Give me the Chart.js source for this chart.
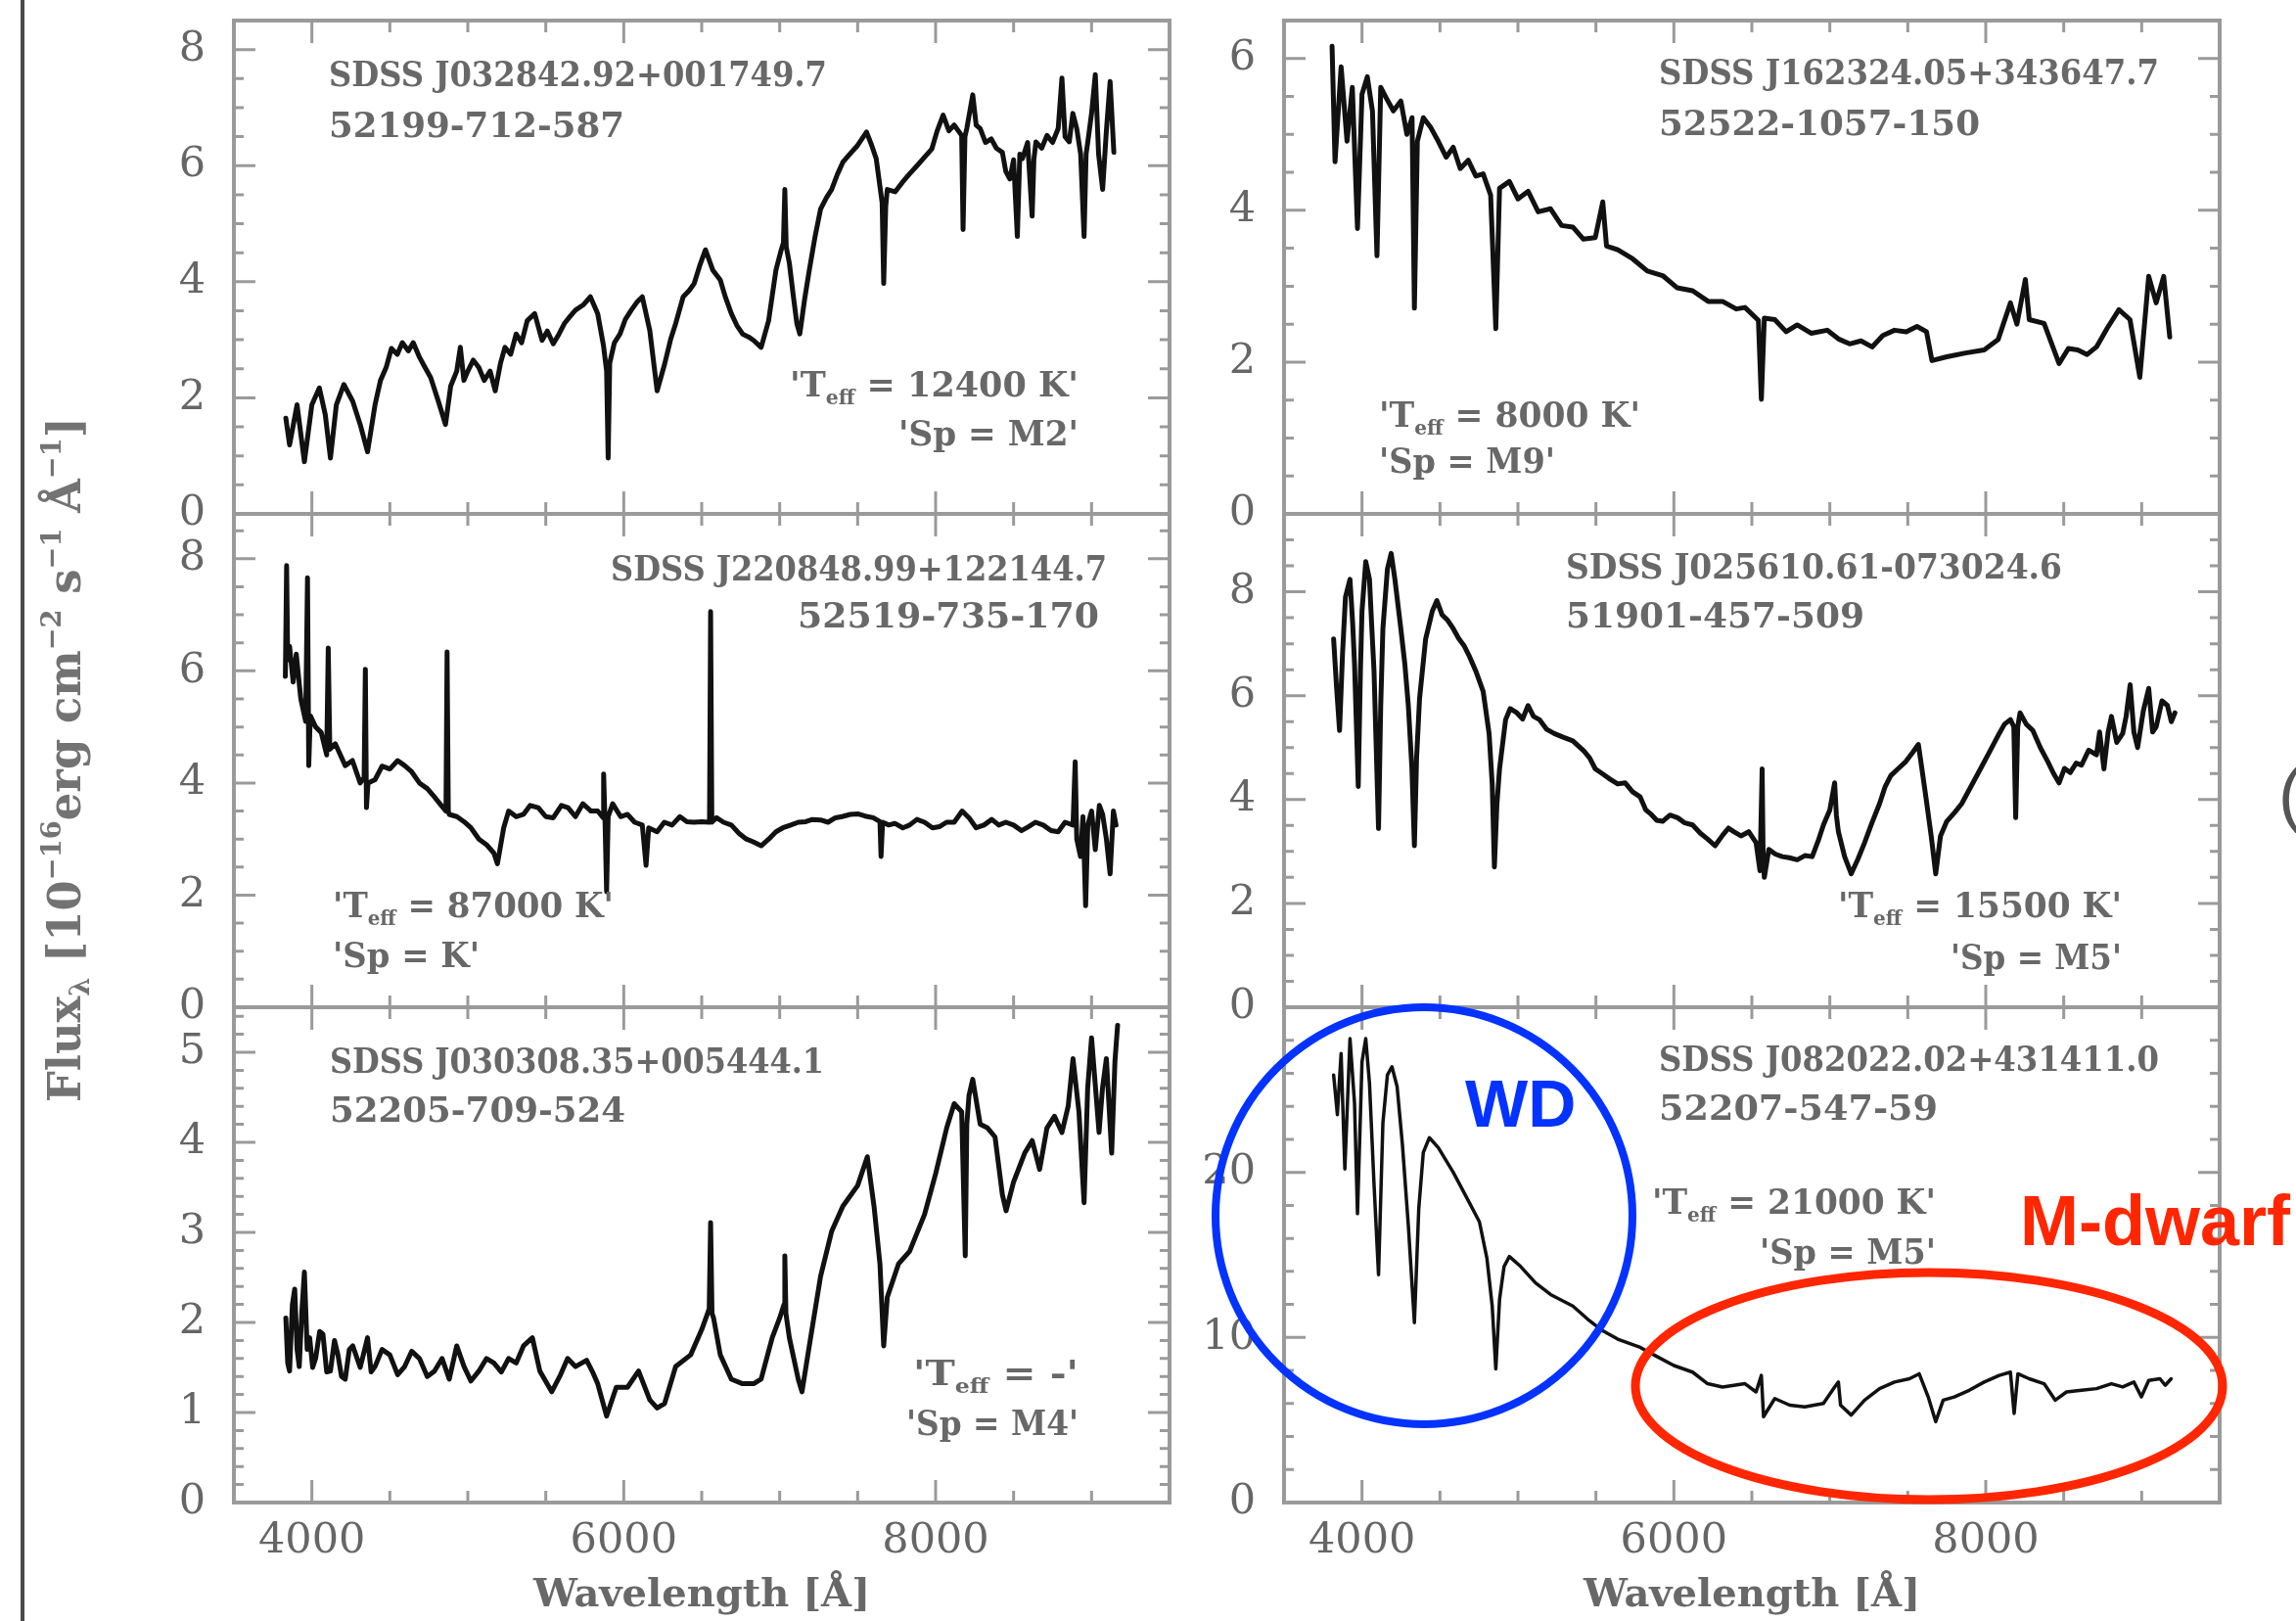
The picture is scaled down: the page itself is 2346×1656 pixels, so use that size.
<!DOCTYPE html>
<html><head><meta charset="utf-8">
<script src="https://cdn.jsdelivr.net/npm/chart.js@4.4.1/dist/chart.umd.min.js"></script>
<style>
html,body{margin:0;padding:0;background:#fff;width:2346px;height:1656px;overflow:hidden;}
canvas{position:absolute;left:0;top:0;}
</style></head><body>
<canvas id="c0" width="2346" height="1656"></canvas>
<canvas id="c1" width="2346" height="1656"></canvas>
<canvas id="c2" width="2346" height="1656"></canvas>
<canvas id="c3" width="2346" height="1656"></canvas>
<canvas id="c4" width="2346" height="1656"></canvas>
<canvas id="c5" width="2346" height="1656"></canvas>
<script>
// ---------------- DATA ----------------
const xTickLabels = [4000, 6000, 8000];
const xRange = [3500, 9500];

const yTicks1 = [0, 2, 4, 6, 8];
const yTicks2 = [0, 2, 4, 6];
const yTicks3 = [0, 2, 4, 6, 8];
const yTicks4 = [0, 2, 4, 6, 8];
const yTicks5 = [0, 1, 2, 3, 4, 5];
const yTicks6 = [0, 10, 20];
const yMaxes = [8.5, 6.5, 8.8, 9.5, 5.5, 30];

const objectNames = ['SDSS J032842.92+001749.7','SDSS J162324.05+343647.7','SDSS J220848.99+122144.7',
                     'SDSS J025610.61-073024.6','SDSS J030308.35+005444.1','SDSS J082022.02+431411.0'];
const plateIds = ['52199-712-587','52522-1057-150','52519-735-170','51901-457-509','52205-709-524','52207-547-59'];
const teffValues = ['12400 K','8000 K','87000 K','15500 K','-','21000 K'];
const spTypes = ['M2','M9','K','M5','M4','M5'];
const xTitle = 'Wavelength [Å]';
const yTitleParts = [['Flux','n'],['λ','sub'],[' [10','n'],['−16','sup'],['erg cm','n'],['−2','sup'],[' s','n'],['−1','sup'],[' Å','n'],['−1','sup'],[']','n']];
const wdLabel = 'WD';
const mdwarfLabel = 'M-dwarf';

// spectra: [wavelength (Å), flux (1e-16 erg cm^-2 s^-1 Å^-1)]
const spec1 = [[3833,1.65],[3857,1.19],[3905,1.88],[3952,0.90],[4000,1.88],[4048,2.17],[4086,1.71],[4119,0.96],[4157,1.88],[4205,2.23],[4262,1.94],[4310,1.54],[4357,1.07],[4405,1.88],[4440,2.30],[4476,2.52],[4510,2.85],[4548,2.75],[4580,2.95],[4619,2.81],[4650,2.95],[4690,2.70],[4720,2.55],[4762,2.35],[4810,1.95],[4857,1.54],[4890,2.20],[4929,2.46],[4952,2.87],[4975,2.30],[5000,2.46],[5035,2.65],[5071,2.52],[5105,2.30],[5143,2.46],[5176,2.12],[5210,2.60],[5238,2.87],[5275,2.75],[5310,3.10],[5345,2.95],[5381,3.33],[5429,3.45],[5476,2.99],[5510,3.15],[5548,2.93],[5585,3.10],[5619,3.28],[5655,3.40],[5690,3.51],[5740,3.60],[5786,3.74],[5833,3.45],[5870,2.90],[5890,2.46],[5900,0.96],[5910,2.60],[5940,2.95],[5976,3.10],[6010,3.35],[6048,3.51],[6085,3.65],[6119,3.74],[6167,3.16],[6214,2.12],[6262,2.58],[6300,3.00],[6333,3.28],[6381,3.74],[6420,3.85],[6452,3.97],[6490,4.30],[6524,4.55],[6571,4.20],[6619,4.03],[6650,3.75],[6690,3.45],[6725,3.25],[6762,3.10],[6800,3.05],[6833,2.99],[6881,2.87],[6929,3.33],[6976,4.20],[7010,4.55],[7024,4.67],[7033,5.59],[7042,4.60],[7062,4.32],[7090,3.70],[7110,3.28],[7129,3.10],[7160,3.70],[7190,4.20],[7225,4.75],[7262,5.25],[7300,5.45],[7333,5.59],[7370,5.85],[7405,6.06],[7450,6.20],[7500,6.35],[7557,6.58],[7590,6.35],[7619,6.12],[7645,5.60],[7657,5.36],[7667,3.97],[7680,5.30],[7690,5.59],[7740,5.55],[7786,5.71],[7830,5.85],[7881,6.00],[7930,6.15],[7976,6.29],[8010,6.60],[8048,6.87],[8085,6.60],[8119,6.70],[8167,6.52],[8176,4.90],[8188,6.50],[8200,6.64],[8238,7.22],[8260,6.70],[8286,6.64],[8320,6.40],[8357,6.46],[8390,6.30],[8428,6.23],[8450,5.90],[8476,5.77],[8500,6.10],[8524,4.78],[8540,6.20],[8557,6.12],[8590,6.40],[8619,5.13],[8630,6.10],[8643,6.41],[8680,6.30],[8714,6.52],[8750,6.40],[8786,6.64],[8810,7.51],[8830,6.50],[8857,6.41],[8880,6.90],[8905,6.64],[8930,6.20],[8952,4.78],[8965,6.20],[8976,6.41],[9000,6.90],[9024,7.57],[9045,6.20],[9071,5.59],[9095,6.60],[9119,7.45],[9143,6.23]];

const spec2 = [[3808,6.16],[3827,4.64],[3866,5.89],[3904,4.91],[3938,5.62],[3971,3.76],[4000,5.53],[4034,5.76],[4067,5.31],[4096,3.40],[4120,5.62],[4153,5.49],[4201,5.31],[4249,5.44],[4288,5.00],[4321,5.22],[4336,2.71],[4355,4.91],[4393,5.22],[4441,5.09],[4489,4.91],[4540,4.70],[4585,4.83],[4630,4.55],[4681,4.66],[4730,4.45],[4777,4.48],[4825,4.20],[4858,2.44],[4882,4.29],[4945,4.38],[5000,4.15],[5065,4.25],[5130,3.98],[5209,4.02],[5280,3.80],[5352,3.78],[5420,3.62],[5496,3.64],[5544,4.11],[5568,3.53],[5640,3.48],[5736,3.36],[5830,3.20],[5928,3.14],[6020,2.98],[6120,2.94],[6220,2.80],[6312,2.80],[6400,2.70],[6456,2.72],[6542,2.55],[6561,1.51],[6580,2.58],[6647,2.56],[6720,2.40],[6791,2.49],[6880,2.38],[6983,2.42],[7060,2.30],[7127,2.24],[7200,2.28],[7271,2.20],[7340,2.35],[7415,2.42],[7490,2.40],[7559,2.47],[7620,2.40],[7655,2.02],[7750,2.07],[7870,2.12],[7990,2.16],[8080,2.30],[8158,2.78],[8200,2.50],[8254,3.09],[8279,2.56],[8374,2.51],[8470,1.98],[8530,2.18],[8590,2.16],[8650,2.10],[8710,2.20],[8780,2.45],[8854,2.69],[8925,2.56],[8988,1.80],[9045,3.13],[9093,2.78],[9141,3.13],[9180,2.33]];

const spec3 = [[3830,5.9],[3838,7.88],[3845,6.2],[3857,6.44],[3880,5.8],[3900,6.3],[3929,5.5],[3960,5.1],[3972,7.66],[3980,4.31],[3990,5.2],[4024,5.0],[4060,4.9],[4095,4.5],[4105,6.41],[4115,4.6],[4150,4.7],[4214,4.31],[4260,4.4],[4310,4.0],[4335,4.1],[4343,6.03],[4350,3.56],[4360,4.0],[4405,4.06],[4450,4.3],[4500,4.25],[4550,4.4],[4595,4.31],[4640,4.2],[4690,4.0],[4740,3.9],[4786,3.75],[4830,3.6],[4860,3.5],[4867,6.34],[4875,3.5],[4881,3.44],[4930,3.4],[4976,3.31],[5020,3.2],[5071,3.0],[5120,2.9],[5167,2.75],[5190,2.56],[5230,3.2],[5262,3.5],[5310,3.4],[5357,3.44],[5400,3.6],[5452,3.56],[5500,3.4],[5548,3.38],[5600,3.6],[5643,3.56],[5690,3.4],[5738,3.63],[5790,3.5],[5833,3.5],[5868,3.38],[5871,4.16],[5880,3.3],[5890,2.06],[5900,3.4],[5929,3.63],[5980,3.4],[6024,3.44],[6070,3.3],[6119,3.25],[6143,2.53],[6160,3.2],[6214,3.13],[6260,3.3],[6310,3.25],[6360,3.4],[6405,3.31],[6450,3.3],[6500,3.31],[6550,3.3],[6557,7.06],[6565,3.3],[6595,3.38],[6640,3.3],[6690,3.25],[6740,3.1],[6786,3.0],[6830,2.95],[6881,2.88],[6930,3.0],[6976,3.13],[7020,3.2],[7071,3.25],[7120,3.3],[7167,3.31],[7210,3.35],[7262,3.34],[7310,3.3],[7357,3.38],[7400,3.4],[7452,3.44],[7500,3.45],[7548,3.41],[7600,3.38],[7643,3.31],[7650,2.69],[7660,3.3],[7700,3.25],[7738,3.28],[7790,3.2],[7833,3.25],[7880,3.35],[7929,3.3],[7980,3.2],[8024,3.22],[8070,3.3],[8119,3.3],[8170,3.5],[8214,3.38],[8260,3.2],[8310,3.25],[8360,3.35],[8405,3.25],[8450,3.3],[8500,3.25],[8550,3.15],[8595,3.22],[8640,3.3],[8690,3.25],[8740,3.15],[8786,3.13],[8830,3.3],[8881,3.25],[8895,4.38],[8905,3.0],[8929,2.69],[8945,3.4],[8962,1.81],[8976,3.25],[9000,3.5],[9024,2.81],[9050,3.6],[9071,3.44],[9095,3.0],[9119,2.38],[9140,3.5],[9157,3.25]];

const spec4 = [[3818,7.09],[3836,6.2],[3856,5.33],[3875,6.8],[3894,7.90],[3923,8.24],[3940,7.4],[3952,6.62],[3976,4.25],[3990,6.5],[4000,7.63],[4024,8.58],[4048,8.24],[4063,7.3],[4077,6.48],[4106,3.44],[4120,5.8],[4134,7.29],[4163,8.44],[4187,8.74],[4211,8.24],[4249,7.29],[4275,6.6],[4297,5.81],[4320,4.6],[4336,3.11],[4350,4.8],[4369,5.94],[4408,7.09],[4451,7.63],[4480,7.83],[4513,7.56],[4550,7.45],[4585,7.29],[4620,7.10],[4657,6.95],[4690,6.75],[4729,6.48],[4777,6.08],[4815,5.27],[4835,4.3],[4849,2.70],[4865,3.9],[4882,4.59],[4921,5.54],[4950,5.75],[4993,5.67],[5030,5.55],[5065,5.81],[5100,5.60],[5137,5.54],[5185,5.35],[5233,5.27],[5290,5.20],[5352,5.13],[5424,4.93],[5460,4.80],[5496,4.59],[5540,4.50],[5592,4.39],[5640,4.30],[5688,4.32],[5735,4.15],[5784,4.05],[5820,3.80],[5856,3.71],[5890,3.60],[5928,3.58],[5975,3.70],[6024,3.65],[6070,3.55],[6120,3.51],[6170,3.35],[6216,3.24],[6264,3.11],[6312,3.31],[6350,3.45],[6384,3.38],[6430,3.30],[6480,3.38],[6527,3.17],[6552,2.63],[6566,4.59],[6572,3.0],[6580,2.50],[6609,3.04],[6650,2.95],[6695,2.90],[6740,2.88],[6791,2.84],[6840,2.92],[6887,2.90],[6925,3.20],[6959,3.51],[7000,3.80],[7031,4.32],[7042,3.70],[7055,3.38],[7095,2.90],[7137,2.57],[7180,2.85],[7223,3.17],[7270,3.55],[7319,3.92],[7355,4.25],[7391,4.46],[7440,4.60],[7487,4.73],[7530,4.90],[7568,5.06],[7590,4.60],[7616,4.05],[7650,3.30],[7679,2.57],[7710,3.30],[7750,3.58],[7800,3.75],[7846,3.92],[7905,4.25],[7966,4.59],[8030,4.95],[8086,5.27],[8120,5.45],[8158,5.54],[8180,5.40],[8192,3.65],[8205,5.40],[8220,5.67],[8260,5.45],[8302,5.33],[8350,5.00],[8398,4.73],[8435,4.50],[8470,4.32],[8505,4.60],[8542,4.52],[8580,4.70],[8614,4.66],[8660,4.95],[8710,4.86],[8730,5.30],[8758,4.59],[8785,5.30],[8806,5.60],[8840,5.10],[8878,5.27],[8900,5.60],[8926,6.21],[8950,5.30],[8974,5.00],[9010,5.70],[9045,6.14],[9070,5.30],[9093,5.40],[9130,5.90],[9165,5.81],[9190,5.50],[9213,5.67]];

const spec5 = [[3833,2.05],[3845,1.55],[3857,1.46],[3875,2.20],[3890,2.37],[3905,1.70],[3919,1.51],[3935,2.10],[3952,2.56],[3970,1.70],[3986,1.83],[4005,1.50],[4024,1.60],[4050,1.90],[4071,1.87],[4095,1.45],[4119,1.46],[4145,1.80],[4167,1.64],[4190,1.40],[4214,1.37],[4240,1.70],[4262,1.74],[4310,1.50],[4357,1.83],[4380,1.45],[4405,1.51],[4450,1.70],[4500,1.64],[4550,1.42],[4595,1.51],[4640,1.68],[4690,1.60],[4740,1.40],[4786,1.46],[4835,1.60],[4881,1.37],[4929,1.74],[4976,1.51],[5020,1.35],[5071,1.46],[5120,1.60],[5167,1.55],[5215,1.45],[5262,1.60],[5310,1.55],[5357,1.74],[5414,1.83],[5462,1.46],[5538,1.23],[5595,1.42],[5640,1.60],[5690,1.51],[5762,1.58],[5800,1.45],[5833,1.32],[5890,0.96],[5952,1.28],[6024,1.28],[6095,1.46],[6167,1.14],[6214,1.05],[6262,1.10],[6333,1.51],[6429,1.64],[6500,1.92],[6548,2.15],[6557,3.11],[6566,2.10],[6576,2.05],[6619,1.64],[6690,1.37],[6762,1.32],[6833,1.32],[6881,1.37],[6952,1.83],[7000,2.05],[7028,2.20],[7033,2.74],[7040,2.10],[7062,1.83],[7119,1.37],[7143,1.23],[7190,1.74],[7262,2.51],[7333,3.01],[7405,3.29],[7500,3.52],[7562,3.84],[7605,3.29],[7643,2.65],[7667,1.74],[7690,2.28],[7762,2.65],[7833,2.79],[7929,3.20],[8000,3.65],[8071,4.16],[8119,4.43],[8167,4.34],[8190,2.74],[8200,4.20],[8214,4.52],[8238,4.70],[8286,4.20],[8333,4.16],[8381,4.06],[8428,3.42],[8452,3.24],[8500,3.56],[8571,3.88],[8619,4.02],[8667,3.70],[8714,4.16],[8762,4.29],[8810,4.11],[8850,4.40],[8881,4.93],[8919,4.34],[8952,3.33],[8975,4.60],[9000,5.16],[9048,4.11],[9070,4.60],[9095,4.93],[9129,3.88],[9150,4.90],[9167,5.30]];

const spec6 = [[3818,25.9],[3842,23.5],[3866,27.2],[3890,20.2],[3923,28.1],[3952,24.2],[3971,17.5],[4000,26.7],[4024,28.1],[4048,25.4],[4077,19.3],[4106,13.8],[4134,23.0],[4163,25.9],[4192,26.4],[4225,25.2],[4259,21.7],[4297,16.8],[4336,10.9],[4364,17.8],[4393,21.2],[4432,22.1],[4489,21.5],[4585,20.0],[4681,18.3],[4753,17.0],[4801,14.8],[4835,11.9],[4858,8.1],[4882,12.3],[4911,14.3],[4945,14.9],[5017,14.3],[5113,13.3],[5209,12.6],[5352,11.9],[5448,11.1],[5544,10.4],[5640,9.9],[5784,9.4],[5880,8.9],[6000,8.3],[6120,7.9],[6216,7.2],[6312,7.0],[6456,7.2],[6527,6.7],[6561,7.7],[6575,5.2],[6647,6.3],[6743,5.9],[6839,5.8],[6959,6.0],[7031,7.0],[7055,7.3],[7069,5.9],[7137,5.3],[7223,6.2],[7319,6.9],[7415,7.3],[7511,7.5],[7573,7.8],[7631,6.4],[7679,4.9],[7727,6.2],[7798,6.4],[7894,6.8],[7990,7.3],[8086,7.7],[8158,7.9],[8182,5.4],[8206,7.8],[8278,7.5],[8374,7.2],[8446,6.2],[8518,6.7],[8614,6.8],[8710,6.9],[8806,7.2],[8878,7.0],[8950,7.3],[8998,6.4],[9045,7.4],[9117,7.5],[9151,7.1],[9189,7.5]];

// ---------------- LAYOUT / STYLE ----------------
const W = 2346, H = 1656;
const COLS = [{l: 239, r: 1195}, {l: 1312, r: 2268}];
const ROWS = [{t: 21, b: 525}, {t: 525, b: 1029}, {t: 1029, b: 1535}];
const AXW = 120;
const FRAME = '#9a9a9a';
const TICKTXT = '#666666';
const ANNO = '#686868';
const LINE = '#111111';
const SERIF = '"DejaVu Serif", "Liberation Serif", serif';

const panels = [
  {spec: spec1, yTicks: yTicks1, yMinor: 0.5, yMajor: 2, row: 0, col: 0, lw: 5},
  {spec: spec2, yTicks: yTicks2, yMinor: 0.5, yMajor: 2, row: 0, col: 1, lw: 5},
  {spec: spec3, yTicks: yTicks3, yMinor: 0.5, yMajor: 2, row: 1, col: 0, lw: 5},
  {spec: spec4, yTicks: yTicks4, yMinor: 0.5, yMajor: 2, row: 1, col: 1, lw: 5},
  {spec: spec5, yTicks: yTicks5, yMinor: 0.2, yMajor: 1, row: 2, col: 0, lw: 5},
  {spec: spec6, yTicks: yTicks6, yMinor: 2, yMajor: 10, row: 2, col: 1, lw: 3.5}
];

// text placement (pixels)
const textPos = [
  {name: [336, 88, 509, 'left'],  plate: [336, 140, 302, 'left'],  teff: [1102, 405, 295, 'right'], sp: [1102, 455, 184, 'right']},
  {name: [1695, 86, 511, 'left'], plate: [1695, 138, 328, 'left'], teff: [1409, 436, 267, 'left'],  sp: [1409, 483, 180, 'left']},
  {name: [1131, 593, 507, 'right'], plate: [1123, 641, 308, 'right'], teff: [340, 937, 287, 'left'], sp: [340, 988, 150, 'left']},
  {name: [1600, 591, 507, 'left'], plate: [1600, 641, 305, 'left'], teff: [2168, 937, 290, 'right'], sp: [2168, 990, 175, 'right']},
  {name: [337, 1096, 505, 'left'], plate: [337, 1146, 302, 'left'], teff: [1102, 1415, 169, 'right'], sp: [1102, 1466, 176, 'right']},
  {name: [1695, 1094, 511, 'left'], plate: [1695, 1144, 285, 'left'], teff: [1978, 1240, 290, 'right'], sp: [1978, 1291, 180, 'right']}
];

function drawSegs(ctx, segs, x, y, align, width, family, weight) {
  let nat = 0;
  for (const s of segs) {
    ctx.font = (weight || 'normal') + ' ' + s.size + 'px ' + family;
    s.w = ctx.measureText(s.t).width; nat += s.w;
  }
  const sx = width / nat;
  let cx = align === 'right' ? x - width : x;
  ctx.textAlign = 'left'; ctx.textBaseline = 'alphabetic';
  for (const s of segs) {
    ctx.save();
    ctx.translate(cx, y + (s.dy || 0));
    ctx.scale(sx, 1);
    ctx.font = (weight || 'normal') + ' ' + s.size + 'px ' + family;
    ctx.fillText(s.t, 0, 0);
    ctx.restore();
    cx += s.w * sx;
  }
}

const panelDecor = {
  id: 'panelDecor',
  afterDatasetsDraw(chart, args, o) {
    const {ctx, chartArea: a} = chart;
    const xs = chart.scales.x, ys = chart.scales.y;
    ctx.save();
    ctx.strokeStyle = FRAME; ctx.lineWidth = 3; ctx.lineCap = 'butt';
    ctx.beginPath();
    for (let v = xs.min; v <= xs.max + 1e-6; v += 500) {
      const p = xs.getPixelForValue(v);
      const L = (v % 2000 === 0) ? 23 : 12;
      ctx.moveTo(p, a.top); ctx.lineTo(p, a.top + L);
      ctx.moveTo(p, a.bottom); ctx.lineTo(p, a.bottom - L);
    }
    const n = Math.floor(ys.max / o.yMinor + 1e-6);
    for (let k = 1; k <= n; k++) {
      const v = k * o.yMinor;
      const p = ys.getPixelForValue(v);
      const q = v / o.yMajor;
      const L = Math.abs(q - Math.round(q)) < 1e-6 ? 22 : 10;
      ctx.moveTo(a.left, p); ctx.lineTo(a.left + L, p);
      ctx.moveTo(a.right, p); ctx.lineTo(a.right - L, p);
    }
    ctx.stroke();
    ctx.lineWidth = 4;
    ctx.strokeRect(a.left, a.top, a.right - a.left, a.bottom - a.top);
    ctx.restore();
  },
  afterDraw(chart, args, o) {
    const ctx = chart.ctx, i = o.index, tp = textPos[i];
    ctx.save();
    ctx.fillStyle = ANNO;
    drawSegs(ctx, [{t: objectNames[i], size: 36}], tp.name[0], tp.name[1], tp.name[3], tp.name[2], SERIF, 'bold');
    drawSegs(ctx, [{t: plateIds[i], size: 36}], tp.plate[0], tp.plate[1], tp.plate[3], tp.plate[2], SERIF, 'bold');
    drawSegs(ctx, [{t: "'T", size: 36}, {t: 'eff', size: 21, dy: 8}, {t: ' = ' + teffValues[i] + "'", size: 36}],
             tp.teff[0], tp.teff[1], tp.teff[3], tp.teff[2], SERIF, 'bold');
    drawSegs(ctx, [{t: "'Sp = " + spTypes[i] + "'", size: 36}], tp.sp[0], tp.sp[1], tp.sp[3], tp.sp[2], SERIF, 'bold');
    ctx.restore();
  }
};

const overlay = {
  id: 'overlay',
  afterDraw(chart) {
    const ctx = chart.ctx;
    ctx.save();
    // left edge line (cropping artifact)
    ctx.fillStyle = '#4a4a4a';
    ctx.fillRect(21, 0, 4, H);
    // y axis title (rotated)
    ctx.fillStyle = '#737373';
    ctx.save();
    ctx.translate(82, 1126);
    ctx.rotate(-Math.PI / 2);
    const segs = yTitleParts.map(([t, k]) => k === 'n' ? {t, size: 46} : (k === 'sup' ? {t, size: 28, dy: -20} : {t, size: 28, dy: 9}));
    drawSegs(ctx, segs, 0, 0, 'left', 700, SERIF, 'bold');
    ctx.restore();
    // partial glyph at right edge
    ctx.fillStyle = '#555555';
    ctx.font = '72px "Liberation Sans", sans-serif';
    ctx.textAlign = 'left'; ctx.textBaseline = 'alphabetic';
    ctx.fillText('(', 2328, 836);
    // WD circle
    ctx.lineWidth = 8; ctx.strokeStyle = '#0433ff';
    ctx.beginPath(); ctx.ellipse(1455, 1242, 213, 213, 0, 0, Math.PI * 2); ctx.stroke();
    // M-dwarf ellipse
    ctx.lineWidth = 9; ctx.strokeStyle = '#ff2600';
    ctx.beginPath(); ctx.ellipse(1971, 1416, 300, 116, 0, 0, Math.PI * 2); ctx.stroke();
    // labels
    ctx.font = 'bold 68px "Liberation Sans", Arial, sans-serif';
    ctx.fillStyle = '#0433ff';
    ctx.fillText(wdLabel, 1497, 1151);
    ctx.font = 'bold 72px "Liberation Sans", Arial, sans-serif';
    ctx.fillStyle = '#ff2600';
    ctx.fillText(mdwarfLabel, 2064, 1272);
    ctx.restore();
  }
};

panels.forEach((P, i) => {
  const col = COLS[P.col], row = ROWS[P.row];
  const isBottom = P.row === 2;
  const AXH = isBottom ? (H - row.b) : 50;
  const pad = {left: col.l - AXW, right: W - col.r, top: row.t, bottom: H - row.b - AXH};
  const plugins = [panelDecor];
  if (i === panels.length - 1) plugins.push(overlay);
  new Chart(document.getElementById('c' + i), {
    type: 'scatter',
    data: {
      datasets: [{
        data: P.spec.map(([x, y]) => ({x, y})),
        showLine: true, pointRadius: 0, borderColor: LINE, borderWidth: P.lw,
        borderJoinStyle: 'round', borderCapStyle: 'round', tension: 0
      }]
    },
    plugins,
    options: {
      responsive: false, animation: false, events: [], devicePixelRatio: 1,
      layout: {padding: pad},
      plugins: {legend: {display: false}, tooltip: {enabled: false}, panelDecor: {index: i, yMinor: P.yMinor, yMajor: P.yMajor}},
      scales: {
        x: {
          type: 'linear', position: 'bottom', min: xRange[0], max: xRange[1],
          afterBuildTicks: s => { s.ticks = xTickLabels.map(v => ({value: v})); },
          afterFit: s => { s.height = AXH; s.paddingLeft = 0; s.paddingRight = 0; s.paddingTop = 0; s.paddingBottom = 0; },
          grid: {display: false, drawTicks: false}, border: {display: false},
          ticks: {display: isBottom, color: TICKTXT, padding: 18, maxRotation: 0, autoSkip: false,
                  callback: v => String(v),
                  font: {family: SERIF, size: 43, lineHeight: 1}},
          title: {display: isBottom, text: xTitle, color: '#686868', padding: {top: 0, bottom: 5},
                  font: {family: SERIF, size: 40, weight: 'bold', lineHeight: 1}}
        },
        y: {
          type: 'linear', position: 'left', min: 0, max: yMaxes[i],
          afterBuildTicks: s => { s.ticks = P.yTicks.map(v => ({value: v})); },
          afterFit: s => { s.width = AXW; s.paddingLeft = 0; s.paddingRight = 0; s.paddingTop = 0; s.paddingBottom = 0; },
          grid: {display: false, drawTicks: false}, border: {display: false},
          ticks: {color: TICKTXT, padding: 29, autoSkip: false, callback: v => String(v),
                  font: {family: SERIF, size: 43, lineHeight: 1}}
        }
      }
    }
  });
});
</script>
</body></html>
